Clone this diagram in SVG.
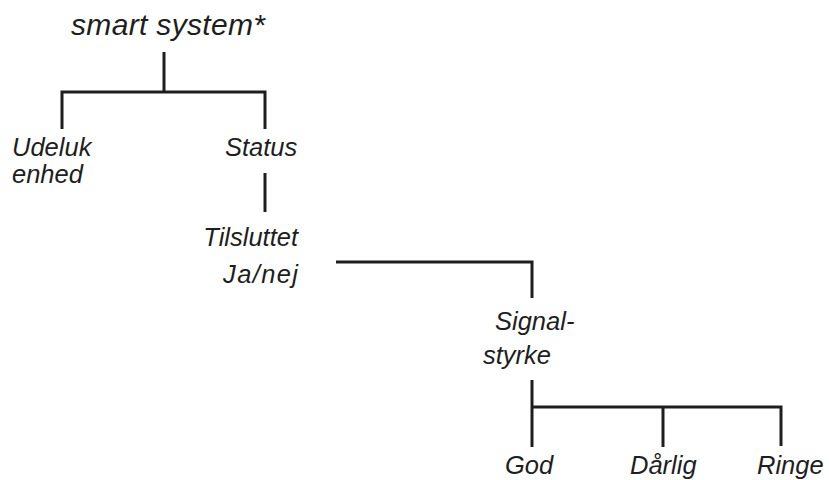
<svg xmlns="http://www.w3.org/2000/svg" width="829" height="480" viewBox="0 0 829 480">
<style>
text{font-family:"Liberation Sans",Arial,sans-serif;font-style:italic;font-size:25.5px;fill:#1e1e1e}
.c{fill:none;stroke:#1e1e1e;stroke-width:3;stroke-linecap:butt;stroke-linejoin:miter}
</style>
<rect width="829" height="480" fill="#fff"/>
<g id="connectors">
<path class="c" d="M164,52V92M62,129V92H265V129"/>
<path class="c" d="M265,173V212"/>
<path class="c" d="M336,262H532V298"/>
<path class="c" d="M532,380V447M532,407H781V446M663,407V447"/>
</g>
<g id="smart-system"><text x="71" y="35" style="font-size:30px" textLength="194" lengthAdjust="spacing">smart system*</text></g>
<g id="udeluk"><text x="12" y="156">Udeluk</text><text x="12" y="183">enhed</text></g>
<g id="status"><text x="225" y="156">Status</text></g>
<g id="tilsluttet"><text x="298" y="246" text-anchor="end">Tilsluttet</text><text x="223" y="283" textLength="75" lengthAdjust="spacing">Ja/nej</text></g>
<g id="signalstyrke"><text x="495" y="330">Signal-</text><text x="483" y="364">styrke</text></g>
<g id="god"><text x="505" y="474">God</text></g>
<g id="darlig"><text x="630" y="474">Dårlig</text></g>
<g id="ringe"><text x="757" y="474">Ringe</text></g>
</svg>
